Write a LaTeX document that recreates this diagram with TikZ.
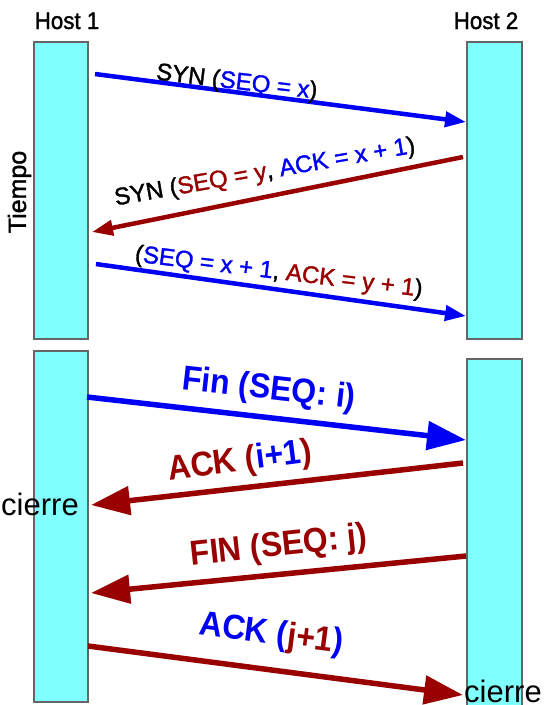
\documentclass[tikz,border=0pt]{standalone}
\usepackage{fontspec}
\setmainfont{Liberation Sans}
\newfontfamily\semifont[RawFeature={embolden=1.5}]{Liberation Sans}
\usetikzlibrary{arrows.meta}
\definecolor{barfill}{HTML}{80FFFF}
\definecolor{barline}{HTML}{666666}
\definecolor{msgblue}{HTML}{0000F5}
\definecolor{msgred}{HTML}{990000}
\begin{document}
\begin{tikzpicture}[x=1pt,y=-1pt,
  bar/.style={draw=barline, line width=1.5pt, fill=barfill, anchor=north west, inner sep=0pt},
  thinmsg/.style={line width=4.5pt, -{Triangle[length=21pt,width=15pt]}},
  thickmsg/.style={line width=5.5pt, -{Triangle[length=39pt,width=28pt]}},
  lbl/.style={anchor=base, inner sep=0pt, font=\semifont\fontsize{24}{28}\selectfont},
  blbl/.style={anchor=base, inner sep=0pt, font=\fontsize{32}{38}\selectfont\bfseries},
  host/.style={anchor=base, inner sep=0pt, font=\semifont\fontsize{24}{28}\selectfont},
  closing/.style={anchor=base, inner sep=0pt, font=\fontsize{31}{36}\selectfont}]
\useasboundingbox (0,0) rectangle (545,705);

% bars
\node[bar, minimum width=54pt, minimum height=297pt] (h1top) at (33,41) {};
\node[bar, minimum width=55pt, minimum height=297pt] (h2top) at (466,41) {};
\node[bar, minimum width=54pt, minimum height=351pt] (h1bot) at (33,350) {};
\node[bar, minimum width=55pt, minimum height=352pt] (h2bot) at (466,358) {};

% host labels
\node[host, xscale=0.93] (hl1) at (67,29) {Host 1};
\node[host, xscale=0.93] (hl2) at (486,29) {Host 2};
\node[host, rotate=90, font=\semifont\fontsize{25}{29}\selectfont] (tiempo) at (26,192) {Tiempo};

% message end points
\coordinate (m1s) at (95,74);   \coordinate (m1e) at (466,122);
\coordinate (m2s) at (463,157); \coordinate (m2e) at (92,232);
\coordinate (m3s) at (96,264);  \coordinate (m3e) at (466,316);
\coordinate (m4s) at (87,397);  \coordinate (m4e) at (466,440);
\coordinate (m5s) at (463,463); \coordinate (m5e) at (91,505);
\coordinate (m6s) at (466,556); \coordinate (m6e) at (91,593);
\coordinate (m7s) at (88,646);  \coordinate (m7e) at (463,695);

% messages
\draw[thinmsg, msgblue] (m1s) -- (m1e);
\draw[thinmsg, msgred] (m2s) -- (m2e);
\draw[thinmsg, msgblue] (m3s) -- (m3e);
\draw[thickmsg, msgblue] (m4s) -- (m4e);
\draw[thickmsg, msgred] (m5s) -- (m5e);
\draw[thickmsg, msgred] (m6s) -- (m6e);
\draw[thickmsg, msgred] (m7s) -- (m7e);

% labels
\node[lbl, rotate=-6.8] (l1) at (236,89) {SYN (\textcolor{msgblue}{SEQ = x})};
\node[lbl, rotate=10] (l2) at (266,179) {SYN (\textcolor{msgred}{SEQ = y}, \textcolor{msgblue}{ACK = x + 1})};
\node[lbl, rotate=-7] (l3) at (278,279) {(\textcolor{msgblue}{SEQ = x + 1}, \textcolor{msgred}{ACK = y + 1})};
\node[blbl, rotate=-6.5, yscale=1.08, text=msgblue] (l4) at (268,399) {Fin (SEQ: i)};
\node[blbl, rotate=7.4, yscale=1.08] (l5) at (241,471) {\textcolor{msgred}{ACK (}\textcolor{msgblue}{i+1}\textcolor{msgred}{)}};
\node[blbl, rotate=6.2, yscale=1.08, text=msgred] (l6) at (280,556) {FIN (SEQ: j)};
\node[blbl, rotate=-7.4, yscale=1.08] (l7) at (270,644) {\textcolor{msgblue}{ACK (}\textcolor{msgred}{j+1}\textcolor{msgblue}{)}};

% closing labels
\node[closing] (c1) at (40,515) {cierre};
\node[closing] (c2) at (503,702) {cierre};
\end{tikzpicture}
\end{document}
